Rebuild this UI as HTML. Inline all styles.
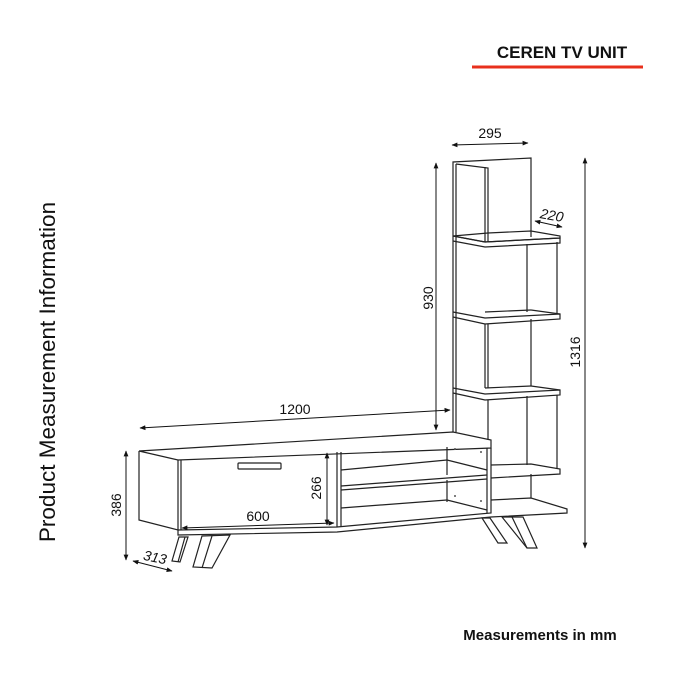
<!DOCTYPE html>
<html><head><meta charset="utf-8"><style>
html,body{margin:0;padding:0;background:#fff;}
svg{display:block;}
text{font-family:"Liberation Sans",sans-serif;fill:#111;}
</style></head><body>
<svg width="700" height="700" viewBox="0 0 700 700" xmlns="http://www.w3.org/2000/svg">
<defs>
<marker id="a" viewBox="0 0 10 10" refX="9" refY="5" markerWidth="6" markerHeight="6" orient="auto-start-reverse"><path d="M0,1 L10,5 L0,9 z" fill="#111"/></marker>
</defs>
<text x="562" y="58" font-size="17" font-weight="bold" text-anchor="middle">CEREN TV UNIT</text>
<line x1="472" y1="67" x2="643" y2="67" stroke="#e8301c" stroke-width="3"/>
<text x="540" y="640" font-size="15" font-weight="bold" text-anchor="middle">Measurements in mm</text>
<text transform="translate(55,372) rotate(-90)" font-size="22.5" text-anchor="middle">Product Measurement Information</text>

<g fill="none" stroke="#222" stroke-width="1.2">
<polyline points="453,432 453,162 531,158 531,237"/>
<line x1="456" y1="164" x2="456" y2="432"/>
<polyline points="456,164 488,168 488,242"/>
<line x1="485" y1="167" x2="485" y2="242"/>
<polygon points="453,236 485,242 560,238 560,236 531,231 488,233"/>
<polyline points="453,236 485,242 560,238 560,243 485,247 453,241"/>
<polyline points="453,312 485,318 560,314 560,319 485,324 453,317"/>
<line x1="485" y1="312" x2="531" y2="310"/><line x1="531" y1="310" x2="560" y2="314"/>
<polyline points="453,388 485,394 560,390 560,395 485,400 453,393"/>
<line x1="485" y1="388" x2="531" y2="386"/><line x1="531" y1="386" x2="560" y2="390"/>
<polyline points="491,465 531,464 560,469 560,474 491,478"/>
<polyline points="491,500 531,498 567,509 567,513 491,517"/>
<line x1="527" y1="244" x2="527" y2="312"/><line x1="557" y1="242" x2="557" y2="314"/>
<line x1="527" y1="396" x2="527" y2="465"/><line x1="557" y1="395" x2="557" y2="469"/>
<line x1="531" y1="319" x2="531" y2="386"/><line x1="531" y1="474" x2="531" y2="498"/>
<line x1="488" y1="324" x2="488" y2="388"/><line x1="485" y1="324" x2="485" y2="388"/>
<line x1="488" y1="400" x2="488" y2="440"/>
<polyline points="139,451 453,432 491,440 491,448 178,460 139,451"/>
<polyline points="139,451 139,520 178,530 178,460"/>
<line x1="181" y1="460" x2="181" y2="530"/>
<polyline points="178,530 337,527 491,513 491,448"/>
<line x1="487" y1="448" x2="487" y2="513"/>
<polyline points="178,530 178,535 337,532 491,517"/>
<line x1="337" y1="452" x2="337" y2="527"/>
<line x1="341" y1="452" x2="341" y2="527"/>
<rect x="238" y="463" width="43" height="6" rx="1"/>
<polyline points="341,486 487,475"/><polyline points="341,490 487,479"/>
<line x1="341" y1="470" x2="447" y2="460"/>
<line x1="341" y1="508" x2="447" y2="500"/>
<line x1="447" y1="447" x2="447" y2="475"/><line x1="447" y1="480" x2="447" y2="502"/>
<line x1="447" y1="460" x2="487" y2="470"/><line x1="447" y1="500" x2="487" y2="510"/>
<polygon points="179,537 188,537 180,562 172,561"/>
<line x1="185" y1="537" x2="178" y2="562"/>
<polygon points="202,536 230,535 212,568 193,567"/>
<line x1="212" y1="536" x2="202" y2="568"/>
<polygon points="482,518 490,518 507,543 498,543"/>
<polygon points="502,517 523,517 537,548 527,548"/>
<line x1="512" y1="517" x2="527" y2="548"/>
</g>
<g fill="#555"><circle cx="455" cy="449" r="1"/><circle cx="481" cy="452" r="1"/><circle cx="455" cy="496" r="1"/><circle cx="481" cy="501" r="1"/></g>

<g stroke="#111" stroke-width="1" fill="none">
<line x1="452" y1="145" x2="528" y2="143" marker-start="url(#a)" marker-end="url(#a)"/>
<line x1="436" y1="163" x2="436" y2="430" marker-start="url(#a)" marker-end="url(#a)"/>
<line x1="140" y1="428" x2="450" y2="410" marker-start="url(#a)" marker-end="url(#a)"/>
<line x1="585" y1="158" x2="585" y2="548" marker-start="url(#a)" marker-end="url(#a)"/>
<line x1="535" y1="221" x2="562" y2="227" marker-start="url(#a)" marker-end="url(#a)"/>
<line x1="126" y1="451" x2="126" y2="560" marker-start="url(#a)" marker-end="url(#a)"/>
<line x1="133" y1="561" x2="172" y2="571" marker-start="url(#a)" marker-end="url(#a)"/>
<line x1="182" y1="528" x2="334" y2="523" marker-start="url(#a)" marker-end="url(#a)"/>
<line x1="327" y1="453" x2="327" y2="525" marker-start="url(#a)" marker-end="url(#a)"/>
</g>
<g font-size="14">
<text x="490" y="138" text-anchor="middle">295</text>
<text transform="translate(433,298) rotate(-90)" text-anchor="middle">930</text>
<text x="295" y="414" text-anchor="middle">1200</text>
<text transform="translate(580,352) rotate(-90)" text-anchor="middle">1316</text>
<text transform="translate(551,220) rotate(10)" text-anchor="middle" font-style="italic">220</text>
<text transform="translate(121,505) rotate(-90)" text-anchor="middle">386</text>
<text transform="translate(154,562) rotate(12)" text-anchor="middle" font-style="italic">313</text>
<text x="258" y="521" text-anchor="middle">600</text>
<text transform="translate(321,488) rotate(-90)" text-anchor="middle">266</text>
</g>
</svg>
</body></html>
